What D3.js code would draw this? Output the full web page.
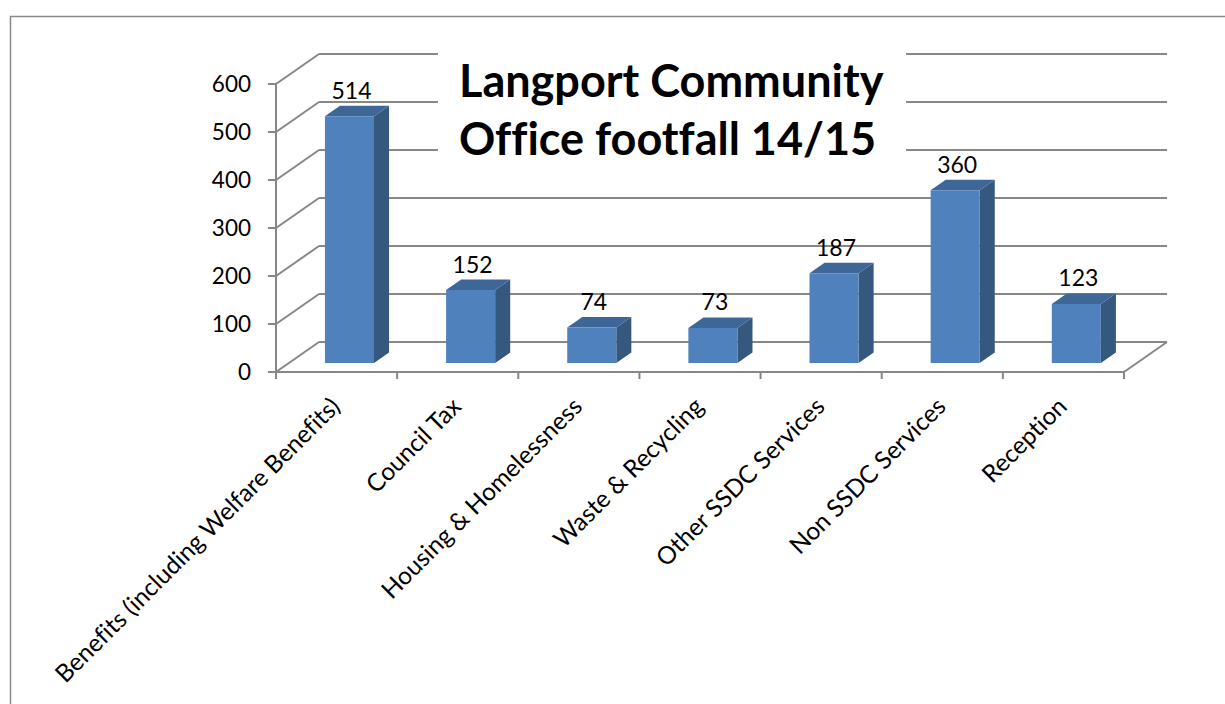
<!DOCTYPE html>
<html>
<head>
<meta charset="utf-8">
<script src="https://cdn.jsdelivr.net/npm/d3@7"></script>
<style>
  html, body { margin: 0; padding: 0; background: #fff; }
  svg { display: block; }
  text { font-variant-ligatures: none; }
</style>
</head>
<body>
<svg id="chart" width="1225" height="704"></svg>
<script>
const categories = [
  "Benefits (including Welfare Benefits)",
  "Council Tax",
  "Housing & Homelessness",
  "Waste & Recycling",
  "Other SSDC Services",
  "Non SSDC Services",
  "Reception"
];
const values = [514, 152, 74, 73, 187, 360, 123];
const yTicks = [0, 100, 200, 300, 400, 500, 600];
const titleLines = ["Langport Community", "Office footfall 14/15"];

const svg = d3.select("#chart");
const FONT = "Lato, 'Open Sans', sans-serif";
const gridColor = "#878787";

// 3D depth shift
const DX = 43, DY = -30;
const x = d3.scaleBand().domain(categories).range([276, 1124]);
const y = d3.scaleLinear().domain([0, 600]).range([372, 84]);
const P = (px, v, d) => [px + d * DX, y(v) + d * DY];

// Frame
svg.append("path")
  .attr("d", "M10.5,704 L10.5,16.5 L1225,16.5")
  .attr("fill", "none").attr("stroke", "#8a8a8a").attr("stroke-width", 1.5);

const x0 = x.range()[0], x1 = x.range()[1];
const g = svg.append("g");

// back wall gridlines + side wall diagonals
yTicks.forEach(t => {
  const a = P(x0, t, 1), b = P(x1, t, 1), c = P(x0, t, 0);
  g.append("line").attr("x1", a[0]).attr("y1", a[1]).attr("x2", b[0]).attr("y2", b[1])
    .attr("stroke", gridColor).attr("stroke-width", 2);
  g.append("line").attr("x1", c[0]).attr("y1", c[1]).attr("x2", a[0]).attr("y2", a[1])
    .attr("stroke", gridColor).attr("stroke-width", 2);
});

// floor front + right edge
{
  const a = P(x0, 0, 0), b = P(x1, 0, 0), c = P(x1, 0, 1);
  g.append("line").attr("x1", a[0]).attr("y1", a[1]).attr("x2", b[0]).attr("y2", b[1])
    .attr("stroke", gridColor).attr("stroke-width", 2);
  g.append("line").attr("x1", b[0]).attr("y1", b[1]).attr("x2", c[0]).attr("y2", c[1])
    .attr("stroke", gridColor).attr("stroke-width", 2);
}

// vertical axis
g.append("line").attr("x1", x0).attr("y1", y(600)).attr("x2", x0).attr("y2", y(0) + 5)
  .attr("stroke", gridColor).attr("stroke-width", 2);
yTicks.forEach(t => {
  g.append("line").attr("x1", x0 - 8).attr("y1", y(t)).attr("x2", x0).attr("y2", y(t))
    .attr("stroke", gridColor).attr("stroke-width", 2);
  svg.append("text").attr("x", 251).attr("y", y(t)).attr("dy", "0.36em")
    .attr("text-anchor", "end").attr("font-family", FONT).attr("font-size", 22.5)
    .attr("fill", "#000").text(t);
});

// category boundary ticks
const bounds = categories.map(c => x(c)).concat([x1]);
bounds.forEach(b => {
  g.append("line").attr("x1", b).attr("y1", y(0)).attr("x2", b).attr("y2", y(0) + 7)
    .attr("stroke", gridColor).attr("stroke-width", 2);
});

// Title backdrop
svg.append("rect").attr("x", 438).attr("y", 42).attr("width", 468).attr("height", 128)
  .attr("fill", "#fff");
svg.append("text").attr("x", 459).attr("y", 97)
  .attr("font-family", FONT).attr("font-weight", "bold").attr("font-size", 45)
  .attr("fill", "#000").text(titleLines[0]);
svg.append("text").attr("x", 459).attr("y", 155)
  .attr("font-family", FONT).attr("font-weight", "bold").attr("font-size", 45)
  .attr("fill", "#000").text(titleLines[1]);

// Bars
const dFront = 0.3, dBack = 0.65;
const barW = x.bandwidth() * 0.405;
const cFront = "#4F81BD", cSide = "#35587F", cTop = "#3E6798";
const bars = svg.append("g");
categories.forEach((c, i) => {
  const v = values[i];
  const cx = x(c) + x.bandwidth() / 2;
  const L = cx - barW / 2, R = cx + barW / 2;
  const fBL = P(L, 0, dFront), fBR = P(R, 0, dFront), fTL = P(L, v, dFront), fTR = P(R, v, dFront);
  const bBR = P(R, 0, dBack), bTL = P(L, v, dBack), bTR = P(R, v, dBack);
  const poly = pts => "M" + pts.map(p => p.join(",")).join("L") + "Z";
  bars.append("path").attr("d", poly([fBR, bBR, bTR, fTR])).attr("fill", cSide);
  bars.append("path").attr("d", poly([fTL, fTR, bTR, bTL])).attr("fill", cTop);
  bars.append("path").attr("d", poly([fBL, fBR, fTR, fTL])).attr("fill", cFront);
  // value label
  svg.append("text").attr("x", (fTL[0] + fTR[0]) / 2 + 2).attr("y", bTL[1] - 7)
    .attr("text-anchor", "middle").attr("font-family", FONT).attr("font-size", 23)
    .attr("fill", "#000").text(v);
  // category label
  const ax = cx + 5, ay = y(0) + 36;
  svg.append("text").attr("transform", `translate(${ax},${ay}) rotate(-45)`)
    .attr("text-anchor", "end").attr("font-family", FONT).attr("font-size", 24.5)
    .attr("fill", "#000").text(c);
});
</script>
</body>
</html>
